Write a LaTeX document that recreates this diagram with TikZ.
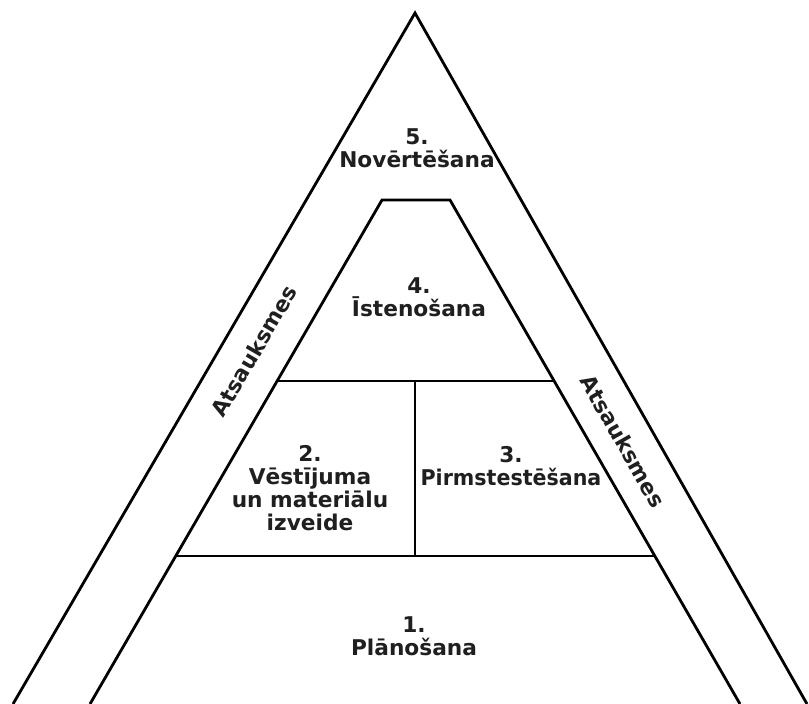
\documentclass[tikz,border=0pt]{standalone}
\usepackage{fontspec}
\setmainfont{DejaVu Sans}
\begin{document}
\begin{tikzpicture}[x=1pt,y=-1pt,
  edge/.style={line width=2.8pt, line join=miter},
  lbl/.style={font=\fontsize{21.7}{23}\selectfont\bfseries, align=center, inner sep=0pt, text=black!88}]
\useasboundingbox (0,0) rectangle (809,704);
% outer triangle
\coordinate (oL) at (13,704);
\coordinate (apex) at (415,13);
\coordinate (oR) at (807,704);
% inner trapezoid
\coordinate (iBL) at (90,704);
\coordinate (iTL) at (382,200);
\coordinate (iTR) at (450,200);
\coordinate (iBR) at (740,704);
% dividers
\coordinate (aL) at (277,381);
\coordinate (aR) at (554,381);
\coordinate (bL) at (176,556);
\coordinate (bR) at (655,556);
\coordinate (aM) at (415,381);
\coordinate (bM) at (415,556);
\draw[edge] (oL) -- (apex) -- (oR);
\draw[edge] (iBL) -- (iTL) -- (iTR) -- (iBR);
\draw[edge] (aL) -- (aR);
\draw[edge] (bL) -- (bR);
\draw[edge] (aM) -- (bM);
% labels
\node[lbl] (s5) at (417,148.5) {5.\\Novērtēšana};
\node[lbl] (s4) at (419,297) {4.\\Īstenošana};
\node[lbl] (s2) at (310,488.5) {2.\\Vēstījuma\\un materiālu\\izveide};
\node[lbl] (s3) at (511,466.5) {3.\\\scalebox{0.95}[1]{Pirmstestēšana}};
\node[lbl] (s1) at (414,636) {1.\\Plānošana};
\node[lbl, rotate=59.8] (fbL) at (254,351) {Atsauksmes};
\node[lbl, rotate=-60.4] (fbR) at (623,441) {Atsauksmes};
\end{tikzpicture}
\end{document}
